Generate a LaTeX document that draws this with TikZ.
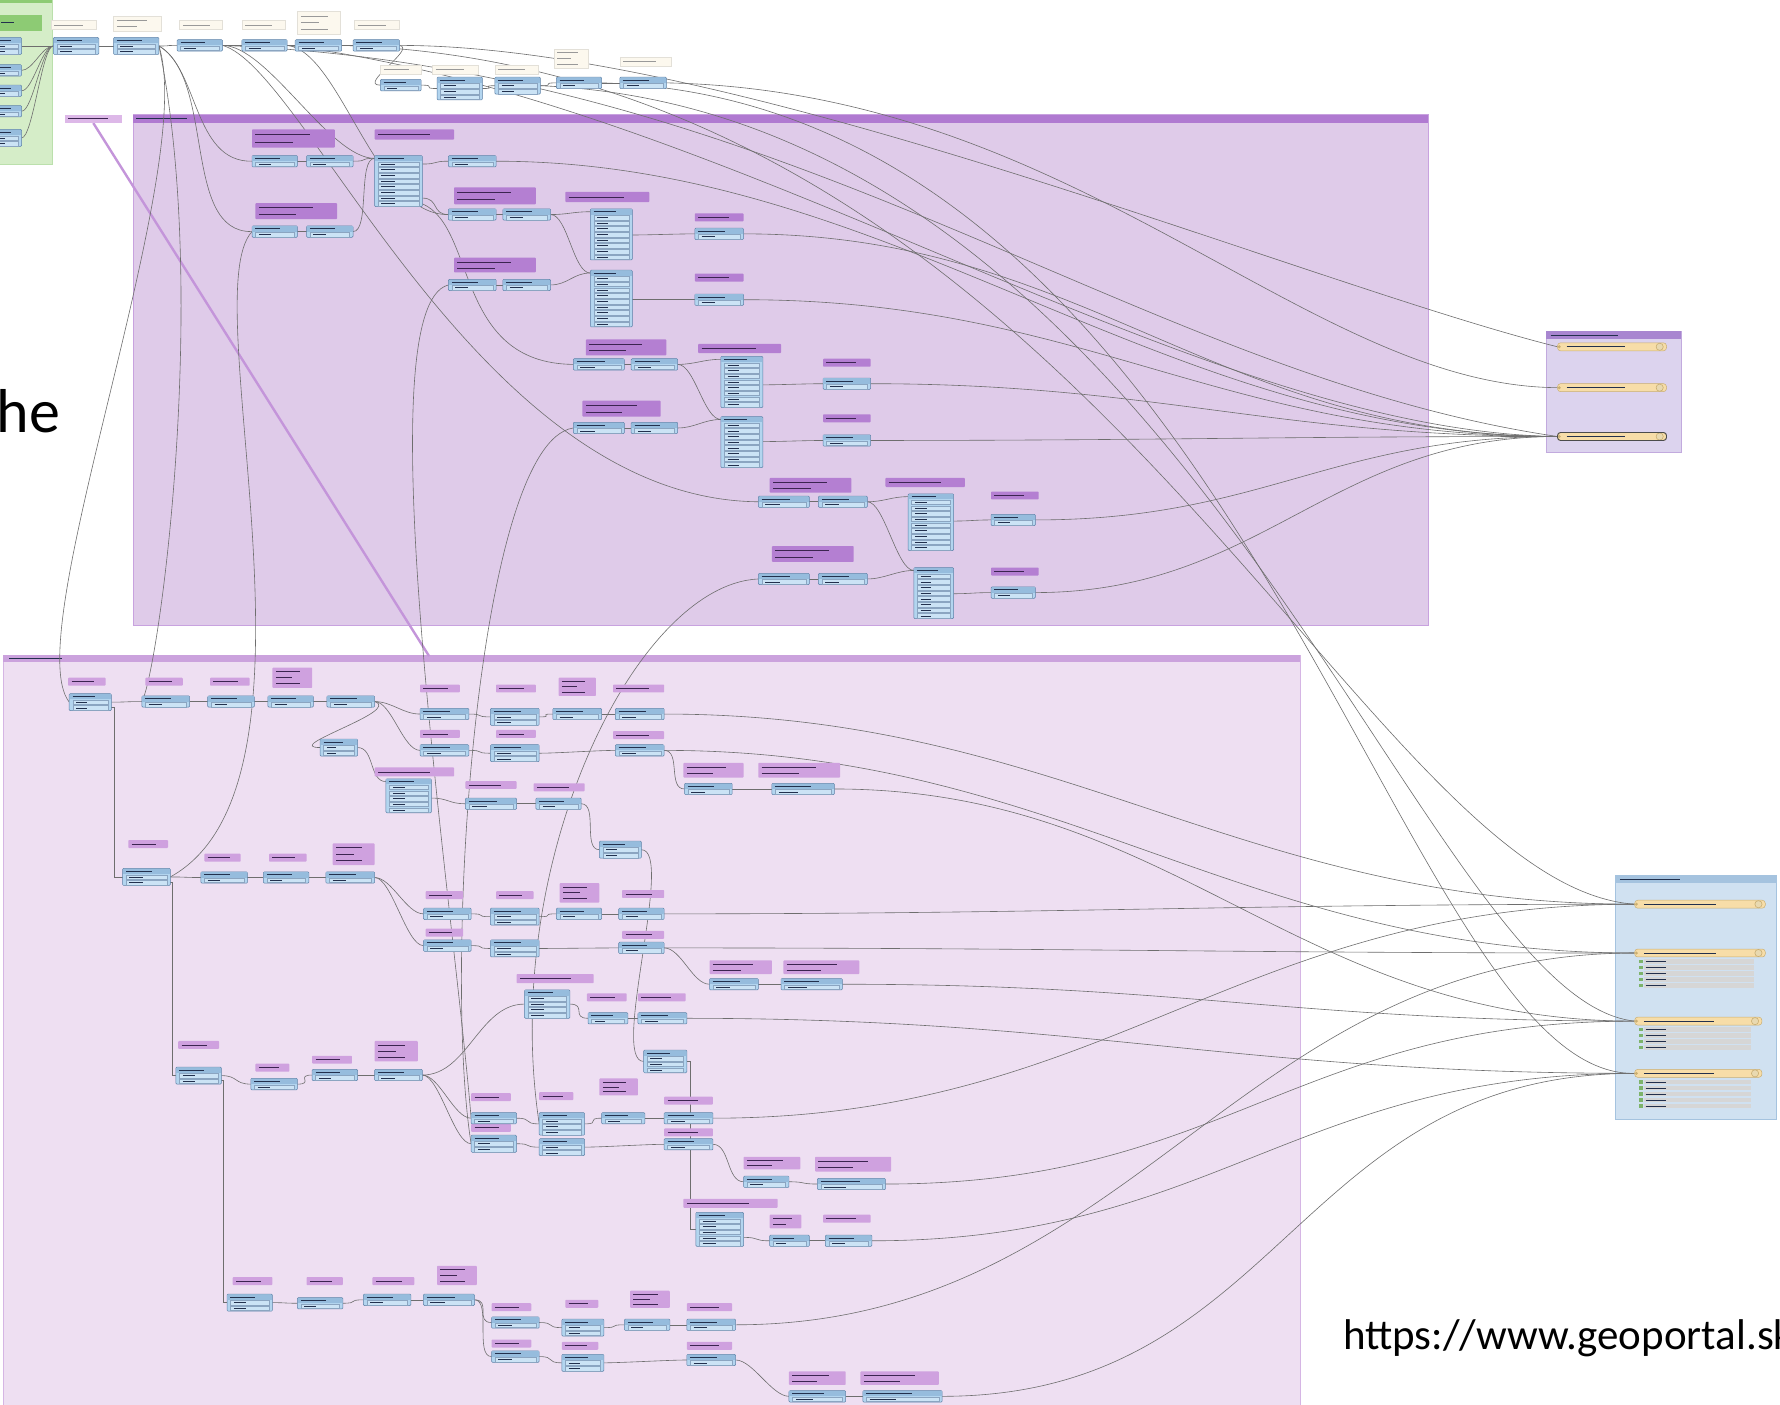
\documentclass[tikz,border=0pt]{standalone}
\usepackage{fontspec}
\setmainfont{Carlito}
\usetikzlibrary{calc}
\pgfdeclarelayer{bg}
\pgfdeclarelayer{lines}
\pgfsetlayers{bg,lines,main}
\definecolor{tbfill}{HTML}{B3D5EF}
\definecolor{tbhead}{HTML}{96BCDD}
\definecolor{tbedge}{HTML}{5A7FA6}
\definecolor{tportc}{HTML}{CBE3F5}
\definecolor{tmarkc}{HTML}{22304D}
\definecolor{annA}{HTML}{B47FD2}
\definecolor{annB}{HTML}{CFA1DF}
\definecolor{amarkc}{HTML}{3B2450}
\definecolor{bmAbody}{HTML}{DFCBE9}
\definecolor{bmAhead}{HTML}{B07AD1}
\definecolor{bmBbody}{HTML}{EEDFF2}
\definecolor{bmBhead}{HTML}{CBA2DD}
\definecolor{gbody}{HTML}{D5EDC8}
\definecolor{ghead}{HTML}{8DCB74}
\definecolor{o1body}{HTML}{DCD3EE}
\definecolor{o1head}{HTML}{A886D0}
\definecolor{o2body}{HTML}{D0E1F1}
\definecolor{o2head}{HTML}{A5C3DF}
\definecolor{featfill}{HTML}{F7DDA8}
\definecolor{featedge}{HTML}{C9AE72}
\definecolor{featring}{HTML}{E9D9B0}
\definecolor{lineC}{HTML}{6E6E6E}
\definecolor{pinkA}{HTML}{DDB8E8}
\definecolor{diagC}{HTML}{C495DA}
\definecolor{wannc}{HTML}{FCF8EE}
\definecolor{arowc}{HTML}{D6D6D6}
\definecolor{chkc}{HTML}{7DB36A}
\tikzset{
  tbox/.style={draw=tbedge, fill=tbfill, line width=0.5pt, rounded corners=1pt, inner sep=0pt, outer sep=0pt},
  thead/.style={fill=tbhead},
  tport/.style={fill=tportc, draw=tbedge!70, line width=0.3pt},
  tmark/.style={draw=tmarkc, line width=0.9pt},
  ann/.style={fill=annA, inner sep=0pt, outer sep=0pt, rounded corners=0.8pt},
  amark/.style={draw=amarkc, line width=0.8pt},
  feat/.style={fill=featfill, draw=featedge, line width=0.5pt, rounded corners=3pt, inner sep=0pt, outer sep=0pt},
  fmark/.style={draw=tmarkc, line width=0.8pt},
  conn/.style={draw=lineC, line width=0.6pt},
  hmark/.style={draw=tmarkc, line width=0.8pt}
}
\newcommand\Tr[5]{%
  \node[tbox, anchor=north west, minimum width={#4*1.1352pt}, minimum height={(5+5*#5)*1.1352pt}] (#1) at (#2,#3) {};
  \fill[thead] (#2+0.4,#3+0.4) rectangle ({#2+#4-0.4},#3+5);
  \draw[tmark] (#2+3,#3+2.6) -- ({#2+0.62*#4},#3+2.6);
  \foreach \k in {1,...,#5}{%
    \draw[tport] (#2+3,{#3+5*\k+0.5}) rectangle ({#2+#4-3},{#3+5*\k+4.5});
    \draw[tmark, line width=0.6pt] (#2+6,{#3+5*\k+2.5}) -- ({#2+0.42*#4},{#3+5*\k+2.5});
  }%
}
\newcommand\An[6]{%
  \node[ann, anchor=north west, minimum width={#4*1.1352pt}, minimum height={#5*1.1352pt}] (#1) at (#2,#3) {};
  \foreach \k in {1,...,#6}{%
    \draw[amark] (#2+3,{#3+1+(#5-2)*(\k-0.5)/#6}) -- ({#2+(0.5+0.2*mod(\k,2))*#4},{#3+1+(#5-2)*(\k-0.5)/#6});
  }%
}
\newcommand\Fe[5]{%
  \node[feat, anchor=north west, minimum width={#4*1.1352pt}, minimum height={7*1.1352pt}] (#1) at (#2,#3) {};
  \draw[fmark] (#2+8,#3+3.5) -- ({#2+0.62*#4},#3+3.5);
  \draw[draw=featedge, fill=featring, line width=0.6pt] ({#2+#4-6},#3+3.5) circle (3.6pt);
  \fill[featedge] (#2+1.5,#3+3.5) circle (1.6pt);
  \ifnum#5>0
  \foreach \k in {1,...,#5}{%
    \fill[arowc] (#2+8,{#3+9+5.3*(\k-1)}) rectangle ({#2+#4-10},{#3+13+5.3*(\k-1)});
    \fill[chkc] (#2+4,{#3+9.5+5.3*(\k-1)}) rectangle ++(3,3);
    \draw[fmark, line width=0.6pt] (#2+9.5,{#3+11+5.3*(\k-1)}) -- ++(18,0);
  }\fi
}
\newcommand\Cn[3][15]{\draw[conn] (#2.east) .. controls +(#1,0) and +(-#1,0) .. (#3.west);}
\newcommand\Cx[3][15]{\draw[conn] #2 .. controls +(#1,0) and +(-#1,0) .. #3;}
\begin{document}
\begin{tikzpicture}[x=1.1352pt,y=-1.1352pt]
\useasboundingbox (0,0) rectangle (1568,1237);

\begin{pgfonlayer}{bg}
  \fill[white] (0,0) rectangle (1568,1237);
  \fill[gbody] (-5,-5) rectangle (46,145);
  \draw[ghead!60, line width=0.5pt] (-5,-5) rectangle (46,145);
  \fill[ghead] (-5,-5) rectangle (46,3);
  \fill[ghead] (-5,13) rectangle (37,27);
  \draw[hmark] (1,20) -- (12,20);
  \fill[bmAbody] (117,101) rectangle (1258,551);
  \draw[bmAhead!70, line width=0.5pt] (117,101) rectangle (1258,551);
  \fill[bmAhead] (117,101) rectangle (1258,108);
  \draw[hmark] (120,104.5) -- (165,104.5);
  \fill[bmBbody] (3,577) rectangle (1145,1240);
  \draw[bmBhead!80, line width=0.5pt] (3,577) rectangle (1145,1240);
  \fill[bmBhead] (3,577) rectangle (1145,583);
  \draw[hmark] (8,580) -- (55,580);
  \fill[o1body] (1362,292) rectangle (1481,398);
  \draw[o1head!70, line width=0.5pt] (1362,292) rectangle (1481,398);
  \fill[o1head] (1362,292) rectangle (1481,299);
  \draw[hmark] (1366,295.5) -- (1425,295.5);
  \fill[o2body] (1423,771) rectangle (1565,986);
  \draw[o2head, line width=0.5pt] (1423,771) rectangle (1565,986);
  \fill[o2head] (1423,771) rectangle (1565,778);
  \draw[hmark] (1427,774.5) -- (1480,774.5);
\end{pgfonlayer}

\Tr{r1}{-6}{33}{25}{2}
\Tr{r2}{-6}{57}{25}{1}
\Tr{r3}{-6}{75}{25}{1}
\Tr{r4}{-6}{93}{25}{1}
\Tr{r5}{-6}{114}{25}{2}

\begin{scope}[ann/.style={fill=wannc, draw=wannc!80!gray, line width=0.3pt, inner sep=0pt, outer sep=0pt}, amark/.style={draw=gray!80, line width=0.6pt}]
\An{w1}{45}{18}{40}{8}{1}
\An{w2}{100}{14}{42}{13}{2}
\An{w3}{158}{18}{38}{8}{1}
\An{w4}{213}{18}{38}{8}{1}
\An{w5}{262}{10}{38}{20}{3}
\An{w6}{312}{18}{40}{8}{1}
\An{w7}{335}{57}{36}{8}{1}
\An{w8}{381}{57}{40}{8}{1}
\An{w9}{436}{57}{38}{8}{1}
\An{w10}{488}{43}{30}{17}{3}
\An{w11}{546}{50}{45}{8}{1}
\end{scope}
\Tr{t1}{47}{33}{40}{2}
\Tr{t2}{100}{33}{40}{2}
\Tr{t3}{156}{35}{40}{1}
\Tr{t4}{213}{35}{40}{1}
\Tr{t5}{260}{35}{41}{1}
\Tr{t6}{311}{35}{41}{1}
\Tr{t7}{335}{70}{36}{1}
\Tr{t8}{385}{68}{40}{3}
\Tr{t9}{436}{68}{40}{2}
\Tr{t10}{490}{68}{40}{1}
\Tr{t11}{546}{68}{41}{1}

\node[fill=pinkA, inner sep=0pt, anchor=north west, minimum width={50*1.1352pt}, minimum height={7*1.1352pt}] (pk) at (57,101) {};
\draw[amark] (60,104.5) -- (95,104.5);
\coordinate (pkend) at (378,578);

\An{aA}{222}{114}{73}{16}{2}
\An{aA2}{330}{114}{70}{9}{1}
\Tr{A1}{222}{137}{40}{1}
\Tr{A2}{270}{137}{41}{1}
\Tr{A3}{330}{137}{42}{8}
\Tr{A4}{395}{137}{42}{1}
\An{aB}{225}{179}{72}{14}{2}
\Tr{B1}{222}{199}{40}{1}
\Tr{B2}{270}{199}{41}{1}
\An{aC}{400}{165}{72}{15}{2}
\An{aC2}{498}{169}{74}{9}{1}
\Tr{C1}{395}{184}{42}{1}
\Tr{C2}{443}{184}{42}{1}
\Tr{C3}{520}{184}{37}{8}
\An{aC3}{612}{188}{43}{7}{1}
\Tr{C4}{612}{201}{43}{1}
\An{aD}{400}{227}{72}{13}{2}
\Tr{D1}{395}{246}{42}{1}
\Tr{D2}{443}{246}{42}{1}
\Tr{D3}{520}{238}{37}{9}
\An{aD3}{612}{241}{43}{7}{1}
\Tr{D4}{612}{259}{43}{1}
\An{aE}{516}{299}{71}{14}{2}
\An{aE2}{615}{303}{73}{8}{1}
\Tr{E1}{505}{316}{45}{1}
\Tr{E2}{556}{316}{41}{1}
\Tr{E3}{635}{314}{37}{8}
\An{aE3}{725}{316}{42}{7}{1}
\Tr{E4}{725}{333}{42}{1}
\An{aF}{513}{353}{69}{14}{2}
\Tr{F1}{505}{372}{45}{1}
\Tr{F2}{556}{372}{41}{1}
\Tr{F3}{635}{367}{37}{8}
\An{aF3}{725}{365}{42}{7}{1}
\Tr{F4}{725}{383}{42}{1}
\An{aG}{678}{421}{72}{13}{2}
\An{aG2}{780}{421}{70}{8}{1}
\Tr{G1}{668}{437}{45}{1}
\Tr{G2}{721}{437}{43}{1}
\Tr{G3}{800}{435}{40}{9}
\An{aG3}{873}{433}{42}{7}{1}
\Tr{G4}{873}{453}{39}{1}
\An{aH}{680}{481}{72}{14}{2}
\Tr{H1}{668}{505}{45}{1}
\Tr{H2}{721}{505}{43}{1}
\Tr{H3}{805}{500}{35}{8}
\An{aH3}{873}{500}{42}{7}{1}
\Tr{H4}{873}{517}{39}{1}

\begin{scope}[ann/.style={fill=annB, inner sep=0pt, outer sep=0pt, rounded corners=0.8pt}]
\An{bP1}{60}{597}{33}{7}{1}
\An{bP2}{128}{597}{33}{7}{1}
\An{bP3}{185}{597}{35}{7}{1}
\An{bP4}{240}{588}{35}{18}{3}
\An{bQ1}{370}{603}{35}{7}{1}
\An{bQ2}{437}{603}{35}{7}{1}
\An{bQ3}{492}{597}{33}{16}{3}
\An{bQ4}{540}{603}{45}{7}{1}
\An{bQ5}{370}{643}{35}{7}{1}
\An{bQ6}{437}{643}{35}{7}{1}
\An{bQ7}{540}{644}{45}{7}{1}
\An{bR2}{330}{676}{70}{8}{1}
\An{bR3}{410}{688}{45}{7}{1}
\An{bR4}{470}{690}{45}{7}{1}
\An{bR5}{602}{672}{53}{13}{2}
\An{bR6}{668}{672}{72}{13}{2}
\An{bS1}{113}{740}{35}{7}{1}
\An{bS2}{180}{752}{32}{7}{1}
\An{bS3}{237}{752}{33}{7}{1}
\An{bS4}{293}{743}{37}{19}{3}
\An{bS5}{375}{785}{33}{7}{1}
\An{bS6}{437}{785}{33}{7}{1}
\An{bS7}{493}{778}{35}{17}{3}
\An{bS8}{548}{784}{37}{7}{1}
\An{bS9}{375}{818}{33}{7}{1}
\An{bS11}{548}{820}{37}{7}{1}
\An{bS12}{625}{846}{55}{12}{2}
\An{bS13}{690}{846}{67}{12}{2}
\An{bS14}{455}{858}{68}{8}{1}
\An{bS15}{517}{875}{35}{7}{1}
\An{bS16}{562}{875}{42}{7}{1}
\An{bU1}{157}{917}{36}{7}{1}
\An{bU2}{225}{937}{30}{7}{1}
\An{bU3}{275}{930}{35}{7}{1}
\An{bU4}{330}{917}{38}{18}{3}
\An{bU5}{528}{950}{34}{15}{3}
\An{bU6}{415}{963}{35}{7}{1}
\An{bU7}{475}{962}{30}{7}{1}
\An{bU9}{585}{966}{43}{7}{1}
\An{bU10}{415}{990}{35}{7}{1}
\An{bU12}{585}{994}{43}{7}{1}
\An{bU13}{655}{1019}{50}{11}{2}
\An{bU14}{718}{1019}{67}{13}{2}
\An{bU15}{602}{1056}{83}{8}{1}
\An{bU16}{678}{1070}{28}{12}{2}
\An{bU17}{725}{1070}{42}{7}{1}
\An{bV1}{205}{1125}{35}{7}{1}
\An{bV2}{270}{1125}{32}{7}{1}
\An{bV3}{328}{1125}{37}{7}{1}
\An{bV4}{385}{1115}{35}{17}{3}
\An{bV5}{433}{1148}{35}{7}{1}
\An{bV6}{498}{1145}{29}{7}{1}
\An{bV7}{555}{1137}{35}{15}{3}
\An{bV8}{605}{1148}{40}{7}{1}
\An{bV9}{433}{1180}{35}{7}{1}
\An{bV10}{495}{1182}{32}{7}{1}
\An{bV11}{605}{1182}{40}{7}{1}
\An{bV12}{695}{1208}{50}{12}{2}
\An{bV13}{758}{1208}{69}{12}{2}
\end{scope}
\Tr{P1}{61}{611}{37}{2}
\Tr{P2}{125}{613}{42}{1}
\Tr{P3}{183}{613}{41}{1}
\Tr{P4}{236}{613}{40}{1}
\Tr{P5}{288}{613}{42}{1}
\Tr{Q1}{370}{624}{43}{1}
\Tr{Q2}{432}{624}{43}{2}
\Tr{Q3}{487}{624}{43}{1}
\Tr{Q4}{542}{624}{43}{1}
\Tr{Q5}{370}{656}{43}{1}
\Tr{Q6}{432}{656}{43}{2}
\Tr{Q7}{542}{656}{43}{1}
\Tr{R1}{282}{651}{33}{2}
\Tr{R2}{340}{686}{40}{5}
\Tr{R3}{410}{703}{45}{1}
\Tr{R4}{472}{703}{40}{1}
\Tr{R5}{603}{690}{42}{1}
\Tr{R6}{680}{690}{55}{1}
\Tr{R7}{528}{741}{37}{2}
\Tr{S1}{108}{765}{42}{2}
\Tr{S2}{177}{768}{41}{1}
\Tr{S3}{232}{768}{40}{1}
\Tr{S4}{287}{768}{43}{1}
\Tr{S5}{373}{800}{42}{1}
\Tr{S6}{432}{800}{43}{2}
\Tr{S7}{490}{800}{40}{1}
\Tr{S8}{545}{800}{40}{1}
\Tr{S9}{373}{828}{42}{1}
\Tr{S10}{432}{828}{43}{2}
\Tr{S11}{545}{830}{40}{1}
\Tr{S12}{625}{862}{43}{1}
\Tr{S13}{688}{862}{54}{1}
\Tr{S14}{462}{872}{40}{4}
\Tr{S15}{518}{892}{35}{1}
\Tr{S16}{562}{892}{43}{1}
\Tr{U1}{155}{940}{40}{2}
\Tr{U2}{221}{950}{41}{1}
\Tr{U3}{275}{942}{40}{1}
\Tr{U4}{330}{942}{42}{1}
\Tr{U5}{567}{925}{38}{3}
\Tr{U6}{415}{980}{40}{1}
\Tr{U7}{475}{980}{40}{3}
\Tr{U8}{530}{980}{38}{1}
\Tr{U9}{585}{980}{43}{1}
\Tr{U10}{415}{1000}{40}{2}
\Tr{U11}{475}{1003}{40}{2}
\Tr{U12}{585}{1003}{43}{1}
\Tr{U13}{655}{1036}{40}{1}
\Tr{U14}{720}{1038}{60}{1}
\Tr{U15}{613}{1068}{42}{5}
\Tr{U16}{678}{1088}{35}{1}
\Tr{U17}{727}{1088}{41}{1}
\Tr{V1}{200}{1140}{40}{2}
\Tr{V2}{262}{1143}{40}{1}
\Tr{V3}{320}{1140}{42}{1}
\Tr{V4}{373}{1140}{45}{1}
\Tr{V5}{433}{1160}{42}{1}
\Tr{V6}{495}{1162}{37}{2}
\Tr{V7}{550}{1162}{40}{1}
\Tr{V8}{605}{1162}{43}{1}
\Tr{V9}{433}{1190}{42}{1}
\Tr{V10}{495}{1193}{37}{2}
\Tr{V11}{605}{1193}{43}{1}
\Tr{V12}{695}{1225}{50}{1}
\Tr{V13}{760}{1225}{70}{1}

\Fe{o1a}{1372}{302}{96}{0}
\Fe{o1b}{1372}{338}{96}{0}
\Fe{o1c}{1372}{381}{96}{0}
\draw[draw=black!70, line width=0.9pt, rounded corners=3pt] (o1c.north west) rectangle (o1c.south east);
\Fe{o2a}{1440}{793}{115}{0}
\Fe{o2b}{1440}{836}{115}{5}
\Fe{o2c}{1440}{896}{112}{4}
\Fe{o2d}{1440}{942}{112}{5}

\node[anchor=base east, inner sep=0pt, font=\fontsize{62}{70}\selectfont] (he) at (53,381) {he};
\node[anchor=base west, inner sep=0pt, font=\fontsize{43}{51}\selectfont] (url) at (1183,1189) {https://www.geoportal.sk};

\begin{pgfonlayer}{lines}
\draw[diagC, line width=2.4pt] (pk.south) -- (pkend);
\Cn[10]{r1}{t1}
\Cn[10]{r2}{t1}
\Cn[10]{r3}{t1}
\Cn[10]{r4}{t1}
\Cn[10]{r5}{t1}
\Cn{t1}{t2}
\Cn{t2}{t3}
\Cn{t3}{t4}
\Cn{t4}{t5}
\Cn{t5}{t6}
\draw[conn] (t6.east) .. controls +(15,3) and +(-20,0) .. (t7.west);
\Cn{t7}{t8}
\Cn{t8}{t9}
\Cn{t9}{t10}
\Cn{t10}{t11}
\draw[conn] (t6.east) .. controls (650,40) and (1150,250) .. (o1a.west);
\draw[conn] (t11.east) .. controls (950,80) and (1150,340) .. (o1b.west);
\draw[conn] (t3.east) .. controls (700,60) and (1000,330) .. (o1c.west);
\draw[conn] (t4.east) .. controls (650,90) and (1050,380) .. (o1c.west);
\draw[conn] (t5.east) .. controls (950,60) and (1200,780) .. (o2a.west);
\draw[conn] (t9.east) .. controls (1050,100) and (1250,880) .. (o2c.west);
\draw[conn] (t10.east) .. controls (1100,90) and (1230,950) .. (o2d.west);
\draw[conn] (t2.east) .. controls (175,60) and (170,143) .. (A1.west);
\draw[conn] (t2.east) .. controls (190,70) and (160,205) .. (B1.west);
\Cx[40]{(t3.east)}{($(A3.north west)+(0,2.5)$)}
\draw[conn] (t4.east) .. controls (300,45) and (330,190) .. (C1.west);
\draw[conn] (t3.east) .. controls (270,60) and (420,440) .. (G1.west);
\draw[conn] (t2.east) .. controls (175,150) and (15,560) .. (P1.west);
\draw[conn] (t2.east) .. controls (185,260) and (140,590) .. (P2.west);
\Cn{A1}{A2}
\Cx{(A2.east)}{($(A3.north west)+(0,2.5)$)}
\Cx{($(A3.north east)+(0,7.5)$)}{(A4.west)}
\Cn{B1}{B2}
\Cx{(B2.east)}{($(A3.north west)+(0,2.5)$)}
\Cx{($(A3.north east)+(0,37.5)$)}{(C1.west)}
\draw[conn] ($(A3.north east)+(0,42.5)$) .. controls (420,200) and (400,320) .. (E1.west);
\Cn{C1}{C2}
\Cx{(C2.east)}{($(C3.north west)+(0,2.5)$)}
\Cx{(C2.east)}{($(D3.north west)+(0,2.5)$)}
\Cx{($(C3.north east)+(0,23)$)}{(C4.west)}
\Cn{D1}{D2}
\Cx{(D2.east)}{($(D3.north west)+(0,2.5)$)}
\Cx{($(D3.north east)+(0,26)$)}{(D4.west)}
\Cn{E1}{E2}
\Cx{(E2.east)}{($(E3.north west)+(0,2.5)$)}
\Cx{(E2.east)}{($(F3.north west)+(0,2.5)$)}
\Cx{($(E3.north east)+(0,25)$)}{(E4.west)}
\Cn{F1}{F2}
\Cx{(F2.east)}{($(F3.north west)+(0,2.5)$)}
\Cx{($(F3.north east)+(0,22)$)}{(F4.west)}
\Cn{G1}{G2}
\Cx{(G2.east)}{($(G3.north west)+(0,2.5)$)}
\Cx{(G2.east)}{($(H3.north west)+(0,2.5)$)}
\Cx{($(G3.north east)+(0,24)$)}{(G4.west)}
\Cn{H1}{H2}
\Cx{(H2.east)}{($(H3.north west)+(0,2.5)$)}
\Cx{($(H3.north east)+(0,23)$)}{(H4.west)}
\Cn[350]{A4}{o1c}
\Cn[300]{C4}{o1c}
\Cn[300]{D4}{o1c}
\Cn[250]{E4}{o1c}
\Cn[250]{F4}{o1c}
\Cn[200]{G4}{o1c}
\Cn[200]{H4}{o1c}
\draw[conn] (S1.east) .. controls (300,690) and (170,260) .. (B1.west);
\draw[conn] (D1.west) .. controls (320,270) and (400,800) .. (U6.west);
\draw[conn] (F1.west) .. controls (420,390) and (390,850) .. (U10.west);
\draw[conn] (H1.west) .. controls (560,515) and (440,760) .. (U7.west);
\Cn{P1}{P2}
\Cn{P2}{P3}
\Cn{P3}{P4}
\Cn{P4}{P5}
\Cn{P5}{Q1}
\Cn{P5}{Q5}
\draw[conn] (P5.east) .. controls +(25,8) and +(-35,0) .. (R1.west);
\Cn{Q1}{Q2}
\Cn{Q2}{Q3}
\Cn{Q3}{Q4}
\Cn{Q5}{Q6}
\Cn{Q6}{Q7}
\Cx{(R1.east)}{($(R2.north west)+(0,2.5)$)}
\Cx{($(R2.north east)+(0,17)$)}{(R3.west)}
\Cn{R3}{R4}
\Cn{R4}{R7}
\Cn{Q7}{R5}
\Cn{R5}{R6}
\draw[conn] ($(P1.south east)+(0,-3)$) -| ($(S1.west)+(-7,0)$) -- (S1.west);
\draw[conn] ($(S1.south east)+(0,-3)$) -| ($(U1.west)+(-3,0)$) -- (U1.west);
\draw[conn] ($(U1.south east)+(0,-3)$) -| ($(V1.west)+(-3,0)$) -- (V1.west);
\Cn{S1}{S2}
\Cn{S2}{S3}
\Cn{S3}{S4}
\Cn{S4}{S5}
\Cn{S4}{S9}
\Cn{S5}{S6}
\Cn{S6}{S7}
\Cn{S7}{S8}
\Cn{S9}{S10}
\Cn{S10}{S11}
\Cn{S11}{S12}
\Cn{S12}{S13}
\Cn[40]{U4}{S14}
\Cn{S14}{S15}
\Cn{S15}{S16}
\Cn{U1}{U2}
\Cn{U2}{U3}
\Cn{U3}{U4}
\Cn{U4}{U6}
\Cn{U4}{U10}
\Cn{U6}{U7}
\Cn{U7}{U8}
\Cn{U8}{U9}
\Cn{U10}{U11}
\Cn{U11}{U12}
\Cn{U12}{U13}
\Cn{U13}{U14}
\Cn[30]{R7}{U5}
\draw[conn] (U5.east) -| ($(U15.west)+(-5,0)$) -- (U15.west);
\Cx{($(U15.north east)+(0,22)$)}{(U16.west)}
\Cn{U16}{U17}
\Cn{V1}{V2}
\Cn{V2}{V3}
\Cn{V3}{V4}
\Cn{V4}{V5}
\Cn{V4}{V9}
\Cn{V5}{V6}
\Cn{V6}{V7}
\Cn{V7}{V8}
\Cn{V9}{V10}
\Cn{V10}{V11}
\Cn{V11}{V12}
\Cn{V12}{V13}
\Cn[350]{Q4}{o2a}
\Cn[350]{Q7}{o2b}
\Cn[300]{R6}{o2c}
\Cn[350]{S8}{o2a}
\Cn[350]{S11}{o2b}
\Cn[300]{S13}{o2c}
\Cn[350]{S16}{o2d}
\Cn[350]{U9}{o2a}
\Cn[300]{U14}{o2c}
\Cn[300]{U17}{o2d}
\Cn[350]{V8}{o2b}
\Cn[300]{V13}{o2d}
\end{pgfonlayer}
\end{tikzpicture}
\end{document}
